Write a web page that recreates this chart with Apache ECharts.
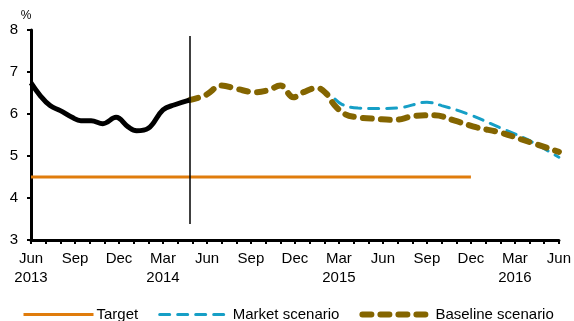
<!DOCTYPE html>
<html>
<head>
<meta charset="utf-8">
<script src="https://cdn.jsdelivr.net/npm/echarts@6/dist/echarts.min.js"></script>
<style>
	html, body {margin: 0; padding: 0; background: #fff;}
	#chart {width: 574px; height: 321px;}
</style>
</head>
<body>
<div id="chart"></div>
<script type="text/javascript">
// x = months since Jun 2013
var tickLabels = ['Jun\n2013', 'Sep', 'Dec', 'Mar\n2014', 'Jun', 'Sep', 'Dec', 'Mar\n2015', 'Jun', 'Sep', 'Dec', 'Mar\n2016', 'Jun'];
var forecastStart = 10.8;

var actualX = [0, 0.6, 1.3, 2, 2.8, 3.4, 4.1, 4.9, 5.8, 6.6, 7.2, 8, 9, 9.8, 10.8];
var actualY = [6.74, 6.45, 6.2, 6.08, 5.92, 5.84, 5.84, 5.77, 5.92, 5.7, 5.6, 5.66, 6.1, 6.22, 6.33];

var marketX = [10.8, 11.9, 13, 14, 15.3, 16.2, 17, 17.9, 18.6, 19.5, 20.4, 21.2, 22.3, 23.7, 25.2, 27, 28, 29.8, 32, 33.8, 36];
var marketY = [6.33, 6.45, 6.68, 6.6, 6.52, 6.57, 6.68, 6.4, 6.52, 6.62, 6.45, 6.23, 6.14, 6.13, 6.15, 6.28, 6.2, 6.0, 5.67, 5.4, 4.97];

var baselineX = [10.8, 11.9, 13, 14, 15.3, 16.2, 17, 17.9, 18.6, 19.5, 20.1, 20.7, 21.4, 22.1, 23.7, 24.8, 26.1, 27.5, 28.9, 30.4, 32, 33.4, 36];
var baselineY = [6.33, 6.45, 6.68, 6.6, 6.52, 6.57, 6.68, 6.4, 6.52, 6.62, 6.5, 6.21, 6.0, 5.93, 5.88, 5.86, 5.95, 5.97, 5.84, 5.68, 5.56, 5.4, 5.1];

var targetX = [0, 30];
var targetY = [4.5, 4.5];

function pairs(xs, ys) {
	var out = [];
	for (var i = 0; i < xs.length; i++) {
		out.push([xs[i], ys[i]]);
	}
	return out;
}

var font = 'Liberation Sans, Arial, sans-serif';
var orange = '#e07c0c', blue = '#169fc6', olive = '#846500';
var targetLine = {color: orange, width: 3};
var marketLine = {color: blue, width: 3, type: [10, 8], cap: 'round'};
var baselineLine = {color: olive, width: 6, type: [9, 9], cap: 'round'};

var option = {
	animation: false,
	textStyle: {fontFamily: font},
	grid: {left: 31, right: 13, top: 30, bottom: 81},
	legend: {
		top: 302,
		left: 17,
		itemWidth: 70,
		itemHeight: 12,
		itemGap: 20,
		itemStyle: {opacity: 0},
		data: [
			{name: 'Target', lineStyle: targetLine},
			{name: 'Market scenario', lineStyle: marketLine},
			{name: 'Baseline scenario', lineStyle: baselineLine}
		],
		textStyle: {fontFamily: font, fontSize: 15, color: '#000', padding: [0, 0, 0, -2]}
	},
	xAxis: {
		type: 'value',
		min: 0,
		max: 36,
		interval: 1,
		splitLine: {show: false},
		axisLine: {lineStyle: {color: '#000', width: 3}},
		axisTick: {length: 4, lineStyle: {color: '#000', width: 2}},
		axisLabel: {
			color: '#000',
			fontSize: 15,
			lineHeight: 19,
			margin: 9,
			formatter: function (v) {
				return v % 3 === 0 ? tickLabels[v / 3] : '';
			}
		}
	},
	yAxis: {
		type: 'value',
		min: 3,
		max: 8,
		interval: 1,
		name: '%',
		nameGap: 8,
		nameTextStyle: {color: '#000', fontSize: 12, padding: [0, 10, 0, 0]},
		splitLine: {show: false},
		axisLine: {show: true, lineStyle: {color: '#000', width: 3}},
		axisTick: {show: true, length: 4, lineStyle: {color: '#000', width: 2}},
		axisLabel: {color: '#000', fontSize: 15, margin: 13}
	},
	series: [
		{
			name: 'Target',
			type: 'line',
			symbol: 'none',
			data: pairs(targetX, targetY),
			lineStyle: targetLine,
			itemStyle: {color: orange}
		},
		{
			name: 'Market scenario',
			type: 'line',
			symbol: 'none',
			smooth: 0.4,
			data: pairs(marketX, marketY),
			lineStyle: marketLine,
			itemStyle: {color: blue}
		},
		{
			name: 'Baseline scenario',
			type: 'line',
			symbol: 'none',
			smooth: 0.4,
			data: pairs(baselineX, baselineY),
			lineStyle: baselineLine,
			itemStyle: {color: olive}
		},
		{
			name: 'Actual',
			type: 'line',
			symbol: 'none',
			smooth: 0.4,
			data: pairs(actualX, actualY),
			lineStyle: {color: '#000', width: 5},
			itemStyle: {color: '#000'},
			markLine: {
				silent: true,
				symbol: 'none',
				label: {show: false},
				lineStyle: {color: '#000', width: 1.5, type: 'solid'},
				data: [[{coord: [forecastStart, 3.38]}, {coord: [forecastStart, 7.86]}]]
			}
		}
	]
};
var myChart = echarts.init(document.getElementById('chart'));
myChart.setOption(option);
</script>
</body>
</html>
